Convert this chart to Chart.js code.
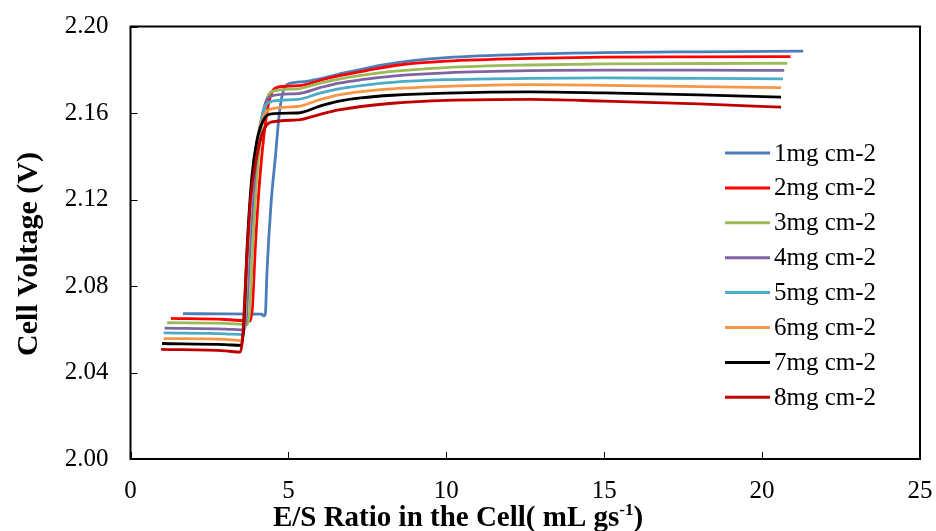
<!DOCTYPE html>
<html>
<head>
  <title>Cell Voltage vs E/S Ratio</title>
  <style>
    html, body { margin: 0; padding: 0; background: #fff; }
    #wrap { width: 936px; height: 531px; position: relative; }
  </style>
  <script src="https://cdn.jsdelivr.net/npm/chart.js@4.4.1/dist/chart.umd.min.js"></script>
</head>
<body>
  <div id="wrap"><canvas id="chart" width="936" height="531"></canvas></div>
  <script>
    // series labels and colours
    const labels = ["1mg cm-2", "2mg cm-2", "3mg cm-2", "4mg cm-2",
                    "5mg cm-2", "6mg cm-2", "7mg cm-2", "8mg cm-2"];
    const colors = ["#4A7EBB", "#FF0000", "#9BBB59", "#8064A2",
                    "#4BACC6", "#F79646", "#000000", "#C00000"];

    // [E/S ratio, cell voltage]
    const s1 = [[1.66,2.0672],[3.0,2.0671],[4.15,2.0670],[4.22,2.0662],[4.27,2.0670],[4.32,2.086],[4.45,2.118],
                [4.59,2.140],[4.7,2.158],[4.8,2.168],[5.0,2.1735],[5.5,2.1745],[6.0,2.1758],[6.6,2.1780],
                [7.2,2.1798],[8,2.1822],[9,2.1843],[10,2.1856],[12.66,2.1872],[15,2.1879],[18,2.1883],[21.3,2.1886]];
    const s2 = [[1.28,2.0650],[3.0,2.0645],[3.78,2.0638],[3.86,2.070],[3.96,2.10],[4.07,2.125],[4.22,2.149],
                [4.38,2.165],[4.58,2.1715],[5.0,2.1724],[5.5,2.1730],[6.1,2.1755],[6.7,2.1775],[7.5,2.1797],
                [8.5,2.1822],[10,2.1840],[12.66,2.1853],[15,2.1858],[18,2.1860],[20.9,2.1861]];
    const s3 = [[1.16,2.0630],[3.0,2.0627],[3.7,2.0622],[3.77,2.068],[3.88,2.10],[4.0,2.13],[4.15,2.153],
                [4.32,2.1665],[4.55,2.1702],[5.3,2.1712],[6.0,2.1738],[6.6,2.1757],[7.3,2.1774],[8.3,2.1792],
                [10,2.1810],[12.66,2.1822],[15,2.1827],[18,2.1829],[20.8,2.1830]];
    const s4 = [[1.08,2.0605],[3.0,2.0601],[3.6,2.0597],[3.67,2.066],[3.79,2.10],[3.93,2.13],[4.08,2.151],
                [4.27,2.1645],[4.5,2.1680],[5.3,2.1690],[6.0,2.1717],[6.6,2.1738],[7.3,2.1754],[8.3,2.1771],
                [10,2.1786],[12.66,2.1796],[15,2.1798],[18,2.1798],[20.7,2.1797]];
    const s5 = [[1.05,2.0583],[3.0,2.0579],[3.55,2.0575],[3.62,2.064],[3.74,2.10],[3.88,2.13],[4.05,2.150],
                [4.25,2.1625],[4.5,2.1655],[5.3,2.1663],[6.0,2.1692],[6.6,2.1712],[7.3,2.1727],[8.3,2.1742],
                [10,2.1754],[12.66,2.1760],[15,2.1762],[18,2.1760],[20.66,2.1758]];
    const s6 = [[1.05,2.0557],[3.0,2.0553],[3.52,2.0548],[3.6,2.062],[3.72,2.10],[3.86,2.13],[4.03,2.149],
                [4.25,2.1595],[4.5,2.1620],[5.3,2.1630],[6.0,2.1662],[6.6,2.1684],[7.3,2.1699],[8.3,2.1712],
                [10,2.1723],[12.66,2.1731],[15,2.1728],[18,2.1722],[20.6,2.1717]];
    const s7 = [[1.0,2.0534],[3.0,2.0529],[3.5,2.0525],[3.58,2.060],[3.7,2.10],[3.84,2.13],[4.0,2.147],
                [4.2,2.1565],[4.42,2.1595],[5.3,2.1600],[6.0,2.1632],[6.6,2.1655],[7.3,2.1670],[8.3,2.1682],
                [10,2.1692],[12.66,2.1698],[15,2.1693],[18,2.1684],[20.6,2.1673]];
    const s8 = [[0.97,2.0507],[3.0,2.0500],[3.47,2.0494],[3.55,2.056],[3.67,2.09],[3.8,2.12],[4.0,2.140],
                [4.2,2.1515],[4.45,2.1558],[5.3,2.1568],[6.0,2.1594],[6.6,2.1614],[7.3,2.1630],[8.3,2.1645],
                [10,2.1658],[12.66,2.1663],[15,2.1655],[18,2.1642],[20.6,2.1627]];
    const series = [s1, s2, s3, s4, s5, s6, s7, s8];

    const xTitle = "E/S Ratio in the Cell( mL gs";
    const xTitleSup = "-1";
    const yTitle = "Cell Voltage (V)";

    const serif = "'Liberation Serif', 'Times New Roman', serif";

    const datasets = series.map((pts, i) => ({
      label: labels[i],
      data: pts.map(p => ({ x: p[0], y: p[1] })),
      borderColor: colors[i],
      backgroundColor: colors[i],
      borderWidth: 2.8,
      pointRadius: 0,
      cubicInterpolationMode: 'monotone',
      order: series.length - i,
    }));

    // frame, inner ticks, axis titles and legend
    const decorations = {
      id: 'decorations',
      afterDraw(chart) {
        const { ctx, chartArea: a, scales } = chart;
        ctx.save();
        ctx.strokeStyle = '#000';
        ctx.lineWidth = 1;
        scales.x.ticks.forEach(t => {
          const px = Math.round(scales.x.getPixelForValue(t.value)) + 0.5;
          ctx.beginPath(); ctx.moveTo(px, a.bottom); ctx.lineTo(px, a.bottom - 7); ctx.stroke();
        });
        scales.y.ticks.forEach(t => {
          const py = Math.round(scales.y.getPixelForValue(t.value)) + 0.5;
          ctx.beginPath(); ctx.moveTo(a.left, py); ctx.lineTo(a.left + 7, py); ctx.stroke();
        });
        ctx.lineWidth = 2;
        ctx.strokeRect(a.left, a.top, a.right - a.left, a.bottom - a.top);

        // y title
        ctx.fillStyle = '#000';
        ctx.font = 'bold 30px ' + serif;
        ctx.textAlign = 'center';
        ctx.textBaseline = 'alphabetic';
        ctx.save();
        ctx.translate(37, 254);
        ctx.rotate(-Math.PI / 2);
        ctx.fillText(yTitle, 0, 0);
        ctx.restore();

        // x title with superscript
        ctx.textAlign = 'left';
        ctx.font = 'bold 29px ' + serif;
        const w1 = ctx.measureText(xTitle).width;
        const w3 = ctx.measureText(")").width;
        ctx.font = 'bold 17px ' + serif;
        const w2 = ctx.measureText(xTitleSup).width;
        let x0 = 458 - (w1 + w2 + w3) / 2;
        const base = 526;
        ctx.font = 'bold 29px ' + serif;
        ctx.fillText(xTitle, x0, base);
        ctx.font = 'bold 17px ' + serif;
        ctx.fillText(xTitleSup, x0 + w1, base - 11);
        ctx.font = 'bold 29px ' + serif;
        ctx.fillText(")", x0 + w1 + w2, base);

        // legend
        ctx.font = '25px ' + serif;
        ctx.textBaseline = 'middle';
        chart.data.datasets.forEach((ds, i) => {
          const y = 153 + i * 34.9;
          ctx.strokeStyle = ds.borderColor;
          ctx.lineWidth = 3;
          ctx.beginPath(); ctx.moveTo(725, y); ctx.lineTo(770, y); ctx.stroke();
          ctx.fillStyle = '#000';
          ctx.fillText(ds.label, 774, y + 1);
        });
        ctx.restore();
      }
    };

    new Chart(document.getElementById('chart'), {
      type: 'line',
      data: { datasets },
      plugins: [decorations],
      options: {
        responsive: false,
        animation: false,
        layout: { padding: { top: 26.5, right: 16, left: 0, bottom: 0 } },
        plugins: { legend: { display: false }, tooltip: { enabled: false } },
        scales: {
          x: {
            type: 'linear',
            min: 0, max: 25,
            grid: { display: false, drawTicks: false },
            border: { display: false },
            ticks: { stepSize: 5, color: '#000', padding: 17, font: { family: serif, size: 25 } },
            afterFit(scale) {
              scale.height = 72;
              scale.paddingLeft = 0;
              scale.paddingRight = 0;
            },
          },
          y: {
            min: 2.0, max: 2.2,
            grid: { display: false, drawTicks: false },
            border: { display: false },
            ticks: {
              stepSize: 0.04, color: '#000', padding: 22, font: { family: serif, size: 25 },
              callback: v => v.toFixed(2),
            },
            afterFit(scale) {
              scale.width = 130.5;
              scale.paddingTop = 0;
              scale.paddingBottom = 0;
            },
          },
        },
      },
    });
  </script>
</body>
</html>
